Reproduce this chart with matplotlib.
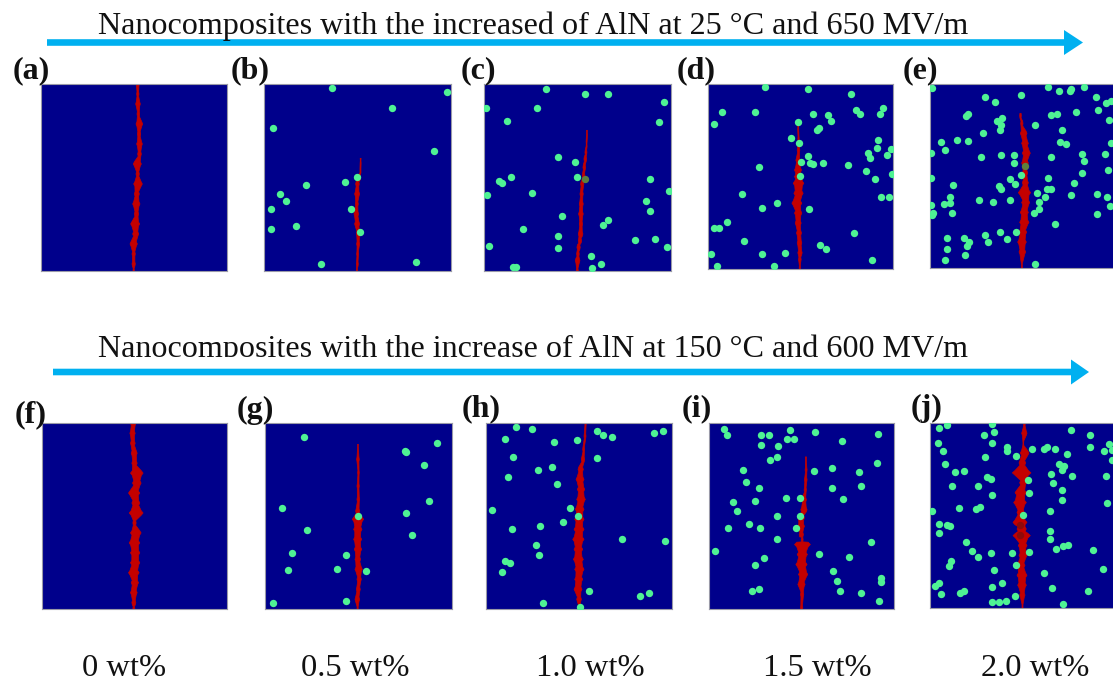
# Import necessary libraries.
import numpy as np
import matplotlib
matplotlib.use("Agg")
import matplotlib.pyplot as plt
from matplotlib.patches import Polygon, Rectangle

plt.rcParams["font.family"] = ["Liberation Serif", "DejaVu Serif"]

# Figure size in pixels.
W, H = 1113, 687

# Simulation domain of one panel, in grid units (y counted from the top).
domain = 560

# Filler particles as (x, y).
dotsB = [(205, 13), (549, 23), (384, 73), (26, 131), (509, 200), (279, 280), (242, 294), (127, 303),
         (49, 330), (66, 351), (21, 375), (262, 374), (97, 425), (20, 436), (288, 443), (170, 540), (455, 535)]
dotsC = [(186, 15), (303, 29), (370, 31), (540, 55), (6, 72), (159, 72), (67, 112), (525, 113), (222, 219),
         (271, 233), (81, 278), (279, 279), (497, 285), (45, 291), (52, 296), (144, 328), (7, 333),
         (554, 320), (485, 352), (498, 381), (233, 396), (372, 408), (357, 422), (116, 434), (222, 457),
         (221, 492), (452, 467), (512, 464), (548, 490), (14, 486), (319, 515), (350, 539), (87, 548),
         (94, 548), (322, 552)]
dotsD = [(172, 10), (304, 16), (433, 29), (42, 84), (20, 121), (144, 86), (318, 92), (364, 94), (371, 112),
         (273, 114), (447, 80), (459, 92), (528, 71), (520, 91), (337, 132), (331, 138), (252, 164), (274, 177),
         (515, 170), (512, 194), (553, 196), (485, 209), (490, 225), (540, 215), (304, 216), (282, 236),
         (310, 240), (319, 242), (349, 240), (424, 244), (155, 250), (479, 262), (279, 278), (555, 273),
         (504, 287), (102, 331), (524, 341), (546, 342), (208, 359), (163, 376), (306, 379), (57, 418),
         (18, 435), (35, 436), (440, 451), (109, 474), (338, 486), (357, 497), (9, 513), (165, 514),
         (232, 510), (495, 531), (27, 550), (200, 550)]
dotsE = [(6, 12), (355, 8), (388, 21), (424, 16), (422, 20), (464, 10), (166, 38), (275, 33), (500, 39),
         (196, 55), (530, 59), (544, 52), (505, 78), (440, 85), (116, 92), (109, 96), (365, 95), (381, 92),
         (217, 103), (201, 112), (537, 108), (213, 126), (316, 126), (211, 141), (396, 140), (161, 150),
         (33, 175), (81, 171), (116, 174), (392, 175), (410, 183), (545, 180), (47, 200), (5, 210), (154, 223),
         (214, 217), (253, 217), (253, 240), (365, 222), (456, 213), (527, 212), (464, 235),
         (535, 262), (456, 269), (275, 276), (5, 286), (242, 289), (356, 284), (257, 303), (70, 306),
         (432, 301), (209, 310), (213, 318), (353, 319), (365, 320), (322, 332), (425, 336), (501, 335),
         (531, 342), (60, 342), (345, 344), (149, 351), (241, 353), (191, 359), (327, 357), (61, 361),
         (44, 365), (3, 368), (541, 372), (328, 379), (312, 392), (11, 392), (6, 397), (66, 392), (503, 394),
         (376, 425), (211, 450), (260, 450), (165, 459), (103, 467), (232, 470), (52, 469), (174, 479),
         (117, 480), (113, 493), (51, 502), (107, 518), (47, 534), (316, 547)]
dotsG = [(117, 42), (517, 61), (419, 85), (424, 88), (478, 128), (492, 236), (50, 256), (422, 270), (279, 280),
         (125, 323), (441, 338), (82, 391), (244, 397), (215, 438), (70, 442), (303, 444), (242, 535), (23, 542)]
dotsH = [(92, 14), (139, 19), (58, 48), (205, 58), (274, 53), (336, 26), (352, 37), (381, 42), (506, 31),
         (534, 24), (82, 102), (336, 107), (200, 133), (158, 143), (67, 164), (215, 185), (254, 255), (20, 263),
         (278, 281), (233, 298), (163, 311), (80, 318), (410, 350), (540, 356), (150, 366), (159, 397),
         (57, 415), (74, 420), (48, 447), (311, 506), (491, 510), (465, 520), (174, 540), (285, 552)]
dotsI = [(44, 18), (54, 35), (156, 36), (181, 34), (243, 21), (235, 48), (255, 47), (320, 25), (510, 31),
         (401, 53), (156, 66), (207, 67), (205, 100), (185, 110), (509, 121), (371, 136), (318, 143), (452, 146),
         (103, 142), (112, 178), (459, 188), (151, 195), (372, 195), (231, 224), (274, 226), (405, 228),
         (137, 234), (73, 236), (83, 265), (206, 280), (276, 280), (119, 303), (56, 314), (153, 315), (262, 316),
         (204, 349), (488, 358), (16, 383), (332, 393), (423, 403), (165, 406), (137, 428), (374, 446),
         (521, 465), (521, 478), (387, 476), (396, 506), (459, 511), (150, 498), (130, 504), (513, 535)]
dotsJ = [(27, 15), (51, 5), (188, 2), (192, 27), (164, 36), (423, 20), (482, 36), (26, 61), (186, 61), (41, 83),
         (232, 72), (232, 84), (308, 78), (344, 77), (351, 72), (376, 79), (480, 72), (524, 83), (538, 63),
         (546, 80), (260, 99), (412, 94), (166, 101), (547, 110), (45, 122), (389, 122), (403, 128), (397, 142),
         (77, 146), (103, 145), (365, 153), (426, 161), (528, 161), (171, 162), (185, 170), (294, 173),
         (369, 180), (146, 189), (68, 191), (397, 202), (298, 210), (186, 216), (396, 231), (531, 242), (89, 256),
         (152, 254), (138, 258), (8, 266), (361, 266), (280, 277), (28, 305), (52, 307), (62, 312), (362, 326),
         (29, 333), (361, 350), (110, 360), (414, 369), (399, 370), (378, 380), (489, 384), (126, 388),
         (184, 394), (246, 392), (298, 389), (144, 404), (65, 417), (59, 432), (260, 430), (194, 443),
         (520, 441), (343, 454), (217, 483), (29, 483), (16, 492), (186, 497), (367, 500), (476, 507),
         (103, 508), (92, 515), (35, 518), (256, 523), (186, 540), (208, 542), (228, 539), (399, 548)]
# Particles partly consumed by the tree, seen through it.
fadedC = [(301, 284)]
fadedE = [(285, 250)]
brokenJ = [(272, 308), (272, 338)]

# Breakdown channel of each panel: depth, left edge and right edge.
crackYA = [0, 30, 60, 90, 120, 150, 180, 210, 240, 270, 300, 330, 360, 390, 420, 450, 480, 510, 540, 560]
crackLA = [286, 288, 285, 289, 286, 290, 288, 291, 278, 286, 279, 281, 276, 281, 270, 276, 268, 274, 274, 277]
crackRA = [296, 295, 299, 297, 306, 300, 305, 302, 302, 296, 305, 296, 298, 294, 297, 294, 290, 284, 284, 281]
crackYB = [230, 260, 285, 300, 330, 360, 390, 420, 450, 480, 510, 540, 560]
crackLB = [289, 288, 276, 275, 272, 274, 270, 272, 277, 278, 278, 277, 277]
crackRB = [291, 291, 289, 286, 287, 283, 284, 287, 288, 287, 284, 283, 281]
crackYC = [146, 180, 205, 225, 250, 275, 300, 330, 360, 390, 420, 450, 470, 490, 510, 530, 560]
crackLC = [307, 306, 302, 299, 296, 294, 289, 287, 285, 283, 285, 282, 282, 278, 277, 273, 276]
crackRC = [309, 308, 308, 307, 304, 302, 299, 297, 297, 297, 295, 296, 292, 288, 285, 287, 282]
crackYD = [130, 165, 200, 230, 260, 280, 300, 330, 360, 390, 420, 450, 480, 510, 530, 556]
crackLD = [272, 272, 270, 266, 262, 262, 258, 260, 254, 262, 264, 268, 270, 272, 274, 276]
crackRD = [274, 276, 278, 279, 283, 288, 290, 288, 284, 284, 282, 283, 284, 285, 282, 280]
crackYE = [96, 120, 150, 180, 210, 240, 270, 300, 330, 360, 390, 420, 450, 480, 510, 553]
crackLE = [270, 273, 272, 276, 278, 276, 278, 278, 266, 276, 272, 270, 268, 264, 268, 275]
crackRE = [275, 280, 292, 296, 302, 296, 294, 296, 303, 300, 296, 298, 291, 290, 288, 278]
crackYF = [0, 30, 60, 90, 120, 150, 180, 210, 240, 270, 300, 330, 360, 390, 420, 450, 480, 510, 540, 558]
crackLF = [268, 266, 268, 270, 272, 268, 274, 262, 272, 264, 275, 268, 264, 268, 268, 262, 270, 268, 272, 275]
crackRF = [284, 282, 282, 288, 288, 306, 300, 296, 296, 306, 285, 300, 296, 296, 296, 294, 292, 288, 284, 281]
crackYG = [72, 110, 150, 190, 230, 265, 290, 320, 350, 380, 410, 440, 470, 500, 530, 560]
crackLG = [278, 275, 278, 276, 276, 272, 262, 266, 266, 268, 270, 270, 276, 274, 270, 276]
crackRG = [280, 283, 283, 283, 284, 284, 296, 291, 290, 290, 287, 292, 289, 286, 284, 280]
crackYH = [0, 40, 80, 110, 140, 170, 200, 230, 260, 290, 320, 350, 380, 410, 440, 470, 500, 530, 558]
crackLH = [298, 296, 292, 288, 278, 272, 276, 274, 270, 268, 266, 262, 266, 264, 268, 268, 266, 274, 280]
crackRH = [303, 302, 298, 298, 294, 296, 298, 300, 296, 296, 296, 296, 292, 294, 296, 292, 290, 288, 284]
crackYI = [108, 140, 170, 200, 230, 260, 285, 310, 335, 350, 365, 395, 425, 455, 485, 515, 555]
crackLI = [291, 290, 288, 287, 280, 277, 268, 268, 272, 278, 258, 266, 262, 270, 268, 276, 276]
crackRI = [294, 296, 296, 294, 294, 296, 288, 288, 285, 284, 306, 297, 296, 298, 290, 286, 283]
crackYJ = [0, 30, 60, 90, 120, 150, 180, 210, 240, 270, 300, 320, 340, 370, 400, 430, 460, 490, 520, 555]
crackLJ = [281, 276, 280, 272, 268, 248, 270, 256, 252, 262, 250, 262, 250, 266, 268, 262, 262, 264, 270, 277]
crackRJ = [287, 292, 282, 298, 288, 304, 290, 290, 290, 284, 292, 290, 302, 292, 292, 286, 292, 290, 286, 280]

# Text of the figure.
labels = ["(a)", "(b)", "(c)", "(d)", "(e)", "(f)", "(g)", "(h)", "(i)", "(j)"]
titleTop = "Nanocomposites with the increased of AlN at 25 °C and 650 MV/m"
titleBottom = "Nanocomposites with the increase of AlN at 150 °C and 600 MV/m"
loadings = ["0 wt%", "0.5 wt%", "1.0 wt%", "1.5 wt%", "2.0 wt%"]

# Particle and crack data for each panel, in reading order.
panelDots = [[], dotsB, dotsC, dotsD, dotsE, [], dotsG, dotsH, dotsI, dotsJ]
panelFaded = [[], [], fadedC, [], fadedE, [], [], [], [], brokenJ]
fadedColors = ["", "", "#5d7f3d", "", "#5d7f3d", "", "", "", "", "#8e0a0a"]
panelCracks = [
  (crackYA, crackLA, crackRA), (crackYB, crackLB, crackRB), (crackYC, crackLC, crackRC),
  (crackYD, crackLD, crackRD), (crackYE, crackLE, crackRE), (crackYF, crackLF, crackRF),
  (crackYG, crackLG, crackRG), (crackYH, crackLH, crackRH), (crackYI, crackLI, crackRI),
  (crackYJ, crackLJ, crackRJ),
]

# Layout in pixels: left, top, size of the panels and position of the labels.
panelBoxes = [
  (40.7, 84, 186.6, 186.6), (264, 84, 186.6, 186.6), (484.3, 84, 186.6, 186.6),
  (707.7, 84, 185.6, 185.4), (929.7, 84, 186.6, 184.4), (41.7, 423.3, 185.6, 186),
  (265, 422.7, 186.6, 186.6), (485.7, 422.7, 186, 186.6), (709.3, 423.3, 185, 186),
  (929.7, 423.3, 186.6, 185),
]
labelXY = [(13, 78), (231, 78), (461, 78), (677, 78), (903, 78), (15, 422), (237, 418), (462, 416), (682, 416), (911, 416)]
loadingX = [124, 355, 590, 817, 1035]

blue = "#00008b"
green = "#4ff294"
red = "#c40000"
cyan = "#00b0f0"
ink = "#111111"

fig = plt.figure(figsize=(W / 100, H / 100), dpi=100, facecolor="white")


# Outline of a channel: a trunk about a third of the read width, with a small
# spike out to the read edge at every depth, which gives the branched look.
def CrackOutline(ys, lefts, rights):
  ys, lefts, rights = np.array(ys, float), np.array(lefts, float), np.array(rights, float)
  mids = (lefts + rights) / 2
  trunk = np.maximum((rights - lefts) * 0.36, 1.5)
  leftSide, rightSide = [], []
  for y, left, right, mid, half in zip(ys, lefts, rights, mids, trunk):
    leftSide += [(mid - half, y - 7), (left, y), (mid - half, y + 7)]
    rightSide += [(mid + half, y - 7), (right, y), (mid + half, y + 7)]
  return leftSide + rightSide[::-1]


# Draw the ten simulation panels.
for box, dots, faded, fadedColor, crack in zip(panelBoxes, panelDots, panelFaded, fadedColors, panelCracks):
  ax = fig.add_axes([box[0] / W, 1 - (box[1] + box[3]) / H, box[2] / W, box[3] / H], facecolor=blue)
  ax.set_xlim(0, domain)
  ax.set_ylim(domain, 0)
  ax.set_xticks([])
  ax.set_yticks([])
  for spine in ax.spines.values():
    spine.set_color("#9a9aa8")
    spine.set_linewidth(0.8)
  ax.add_patch(Polygon(CrackOutline(*crack), closed=True, facecolor=red, edgecolor=red, linewidth=0.5, zorder=2))
  if dots:
    pts = np.array(dots)
    ax.scatter(pts[:, 0], pts[:, 1], s=28, color=green, linewidths=0, zorder=3)
  if faded:
    pts = np.array(faded)
    ax.scatter(pts[:, 0], pts[:, 1], s=28, color=fadedColor, linewidths=0, zorder=4)

# Overlay in pixel coordinates for text and arrows.
over = fig.add_axes([0, 0, 1, 1], facecolor="none")
over.set_xlim(0, W)
over.set_ylim(H, 0)
over.axis("off")


# Cyan arrow drawn as one polygon: shaft plus triangular head.
def DrawArrow(x0, x1, y, headStart):
  shaft = 3.3
  head = 12.5
  points = [(x0, y - shaft), (headStart, y - shaft), (headStart, y - head), (x1, y),
            (headStart, y + head), (headStart, y + shaft), (x0, y + shaft)]
  over.add_patch(Polygon(points, closed=True, color=cyan, linewidth=0, zorder=2))


DrawArrow(47, 1083, 42.5, 1064)
DrawArrow(53, 1089, 372, 1071)

# Titles; the lower one is cut just below its baseline in the source figure.
over.text(98, 34, titleTop, fontsize=23.1, color=ink, va="baseline", ha="left", zorder=5)
over.text(98, 357, titleBottom, fontsize=23.1, color=ink, va="baseline", ha="left", zorder=5)
over.add_patch(Rectangle((90, 357), 900, 11, color="white", linewidth=0, zorder=6))

# Panel letters and the loading row along the bottom.
for label, (lx, ly) in zip(labels, labelXY):
  over.text(lx, ly, label, fontsize=23, fontweight="bold", color=ink, va="baseline", ha="left", zorder=5)
for text, lx in zip(loadings, loadingX):
  over.text(lx, 676, text, fontsize=23.4, color=ink, va="baseline", ha="center")

fig.savefig("out.png", dpi=100)
